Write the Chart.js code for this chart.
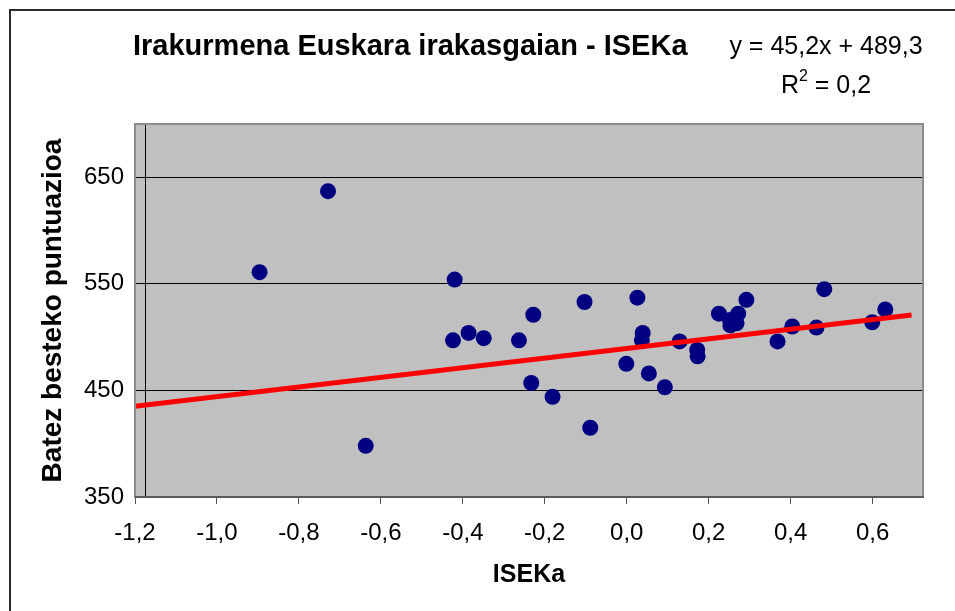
<!DOCTYPE html>
<html>
<head>
<meta charset="utf-8">
<script src="https://cdn.jsdelivr.net/npm/chart.js@4/dist/chart.umd.min.js"></script>
<style>
  html, body { margin: 0; padding: 0; background: #fff; overflow: hidden; }
  #wrap { position: relative; width: 955px; height: 611px; }
</style>
</head>
<body>
<div id="wrap"><canvas id="c" width="955" height="611"></canvas></div>
<script>
// ---- data ----
const iseka = [-0.896, -0.729, -0.637, -0.420, -0.424, -0.386, -0.349, -0.263, -0.228, -0.233,
               -0.181, -0.103, -0.089, -0.001, 0.026, 0.039, 0.037, 0.054, 0.093, 0.129,
               0.172, 0.173, 0.225, 0.252, 0.272, 0.268, 0.253, 0.292, 0.368, 0.404,
               0.463, 0.482, 0.599, 0.631];
const puntuazioa = [561, 637, 398, 554, 497, 504, 499, 497, 521, 457,
                    444, 533, 415, 475, 537, 504, 497, 466, 453, 496,
                    488, 482, 522, 516, 522, 513, 511, 535, 496, 510,
                    509, 545, 514, 526];
const xTickValues = [-1.2, -1.0, -0.8, -0.6, -0.4, -0.2, 0.0, 0.2, 0.4, 0.6];
const yTickValues = [350, 450, 550, 650];
const xRange = [-1.2, 0.723];
const yRange = [350, 700];
const trendSlope = 45.2;
const trendIntercept = 489.3;
const trendRange = [-1.2, 0.695];
const yAxisCrossesAt = -1.175;
const rSquared = '0,2';

const chartTitle = 'Irakurmena Euskara irakasgaian - ISEKa';
const xTitle = 'ISEKa';
const yTitle = 'Batez besteko puntuazioa';

const FONT = '"Liberation Sans", Arial, Helvetica, sans-serif';
const fmt = v => v.toFixed(1).replace('.', ',');
const fmtNum = v => String(v).replace('.', ',');

const scatterPoints = iseka.map((x, i) => ({ x: x, y: puntuazioa[i] }));
const trendPoints = trendRange.map(x => ({ x: x, y: trendIntercept + trendSlope * x }));

const decor = {
  id: 'decor',
  beforeDraw(chart) {
    const { ctx, chartArea: a } = chart;
    ctx.save();
    ctx.fillStyle = '#C0C0C0';
    ctx.fillRect(a.left, a.top, a.right - a.left, a.bottom - a.top);
    ctx.restore();
  },
  beforeDatasetsDraw(chart) {
    const { ctx, chartArea: a, scales } = chart;
    const px = Math.round(scales.x.getPixelForValue(yAxisCrossesAt)) + 0.5;
    ctx.save();
    ctx.strokeStyle = '#000';
    ctx.lineWidth = 1;
    ctx.beginPath();
    ctx.moveTo(px, a.top);
    ctx.lineTo(px, a.bottom);
    ctx.stroke();
    ctx.restore();
  },
  afterDraw(chart) {
    const { ctx, chartArea: a } = chart;
    ctx.save();
    // plot border
    ctx.strokeStyle = '#8c8c8c';
    ctx.lineWidth = 2;
    ctx.strokeRect(a.left, a.top, a.right - a.left, a.bottom - a.top);
    ctx.strokeStyle = '#5a5a5a';
    ctx.beginPath();
    ctx.moveTo(a.left, a.bottom);
    ctx.lineTo(a.right + 1, a.bottom);
    ctx.stroke();
    // outer chart border (top and left visible)
    ctx.strokeStyle = '#2b2b2b';
    ctx.lineWidth = 2;
    ctx.beginPath();
    ctx.moveTo(10, chart.height + 5);
    ctx.lineTo(10, 10);
    ctx.lineTo(chart.width + 5, 10);
    ctx.stroke();
    // title
    ctx.fillStyle = '#000';
    ctx.textBaseline = 'middle';
    ctx.textAlign = 'left';
    ctx.font = 'bold 29px ' + FONT;
    ctx.fillText(chartTitle, a.left - 2, 47);
    // trend equation
    ctx.font = '25px ' + FONT;
    ctx.textAlign = 'center';
    const eq = 'y = ' + fmtNum(trendSlope) + 'x + ' + fmtNum(trendIntercept);
    const cx = 826;
    ctx.fillText(eq, cx, 47);
    // R² line
    const p1 = 'R', p2 = '2', p3 = ' = ' + rSquared;
    ctx.font = '25px ' + FONT;
    const w1 = ctx.measureText(p1).width, w3 = ctx.measureText(p3).width;
    ctx.font = '16px ' + FONT;
    const w2 = ctx.measureText(p2).width;
    const total = w1 + w2 + w3;
    let sx = cx - total / 2;
    ctx.textAlign = 'left';
    ctx.font = '25px ' + FONT;
    ctx.fillText(p1, sx, 86);
    ctx.font = '16px ' + FONT;
    ctx.fillText(p2, sx + w1, 77);
    ctx.font = '25px ' + FONT;
    ctx.fillText(p3, sx + w1 + w2, 86);
    ctx.restore();
  }
};

new Chart(document.getElementById('c'), {
  type: 'scatter',
  data: {
    datasets: [
      {
        label: 'Trend',
        type: 'line',
        data: trendPoints,
        borderColor: '#FF0000',
        borderWidth: 5,
        pointRadius: 0,
        fill: false,
        tension: 0,
        order: 0
      },
      {
        label: 'Ikastetxeak',
        data: scatterPoints,
        backgroundColor: '#000080',
        borderColor: '#000080',
        borderWidth: 0,
        pointRadius: 8,
        pointHoverRadius: 8,
        order: 1
      }
    ]
  },
  options: {
    responsive: false,
    animation: false,
    devicePixelRatio: 1,
    layout: { padding: { left: 0, right: 32, top: 124, bottom: 0 } },
    plugins: {
      legend: { display: false },
      tooltip: { enabled: false },
      title: { display: false }
    },
    scales: {
      x: {
        type: 'linear',
        min: xRange[0],
        max: xRange[1],
        afterBuildTicks: s => { s.ticks = xTickValues.map(v => ({ value: v })); },
        afterFit: s => { s.height = 114; },
        grid: { drawOnChartArea: false, drawTicks: true, tickLength: 7, color: '#555', lineWidth: 1 },
        border: { display: false },
        ticks: {
          autoSkip: false, maxRotation: 0, padding: 15,
          color: '#000', font: { family: FONT, size: 24 },
          callback: v => fmt(v)
        },
        title: {
          display: true, text: xTitle, color: '#000',
          font: { family: FONT, size: 25, weight: 'bold' },
          padding: { top: 0, bottom: 21 }
        }
      },
      y: {
        type: 'linear',
        min: yRange[0],
        max: yRange[1],
        afterBuildTicks: s => { s.ticks = yTickValues.map(v => ({ value: v })); },
        afterFit: s => { s.width = 135; },
        grid: { drawOnChartArea: true, drawTicks: false, color: '#000', lineWidth: 1 },
        border: { display: false },
        ticks: {
          autoSkip: false, padding: 11,
          color: '#000', font: { family: FONT, size: 24 },
          callback: v => String(v)
        },
        title: {
          display: true, text: yTitle, color: '#000',
          font: { family: FONT, size: 28, weight: 'bold' },
          padding: { top: 36, bottom: 0 }
        }
      }
    }
  },
  plugins: [decor]
});
</script>
</body>
</html>
